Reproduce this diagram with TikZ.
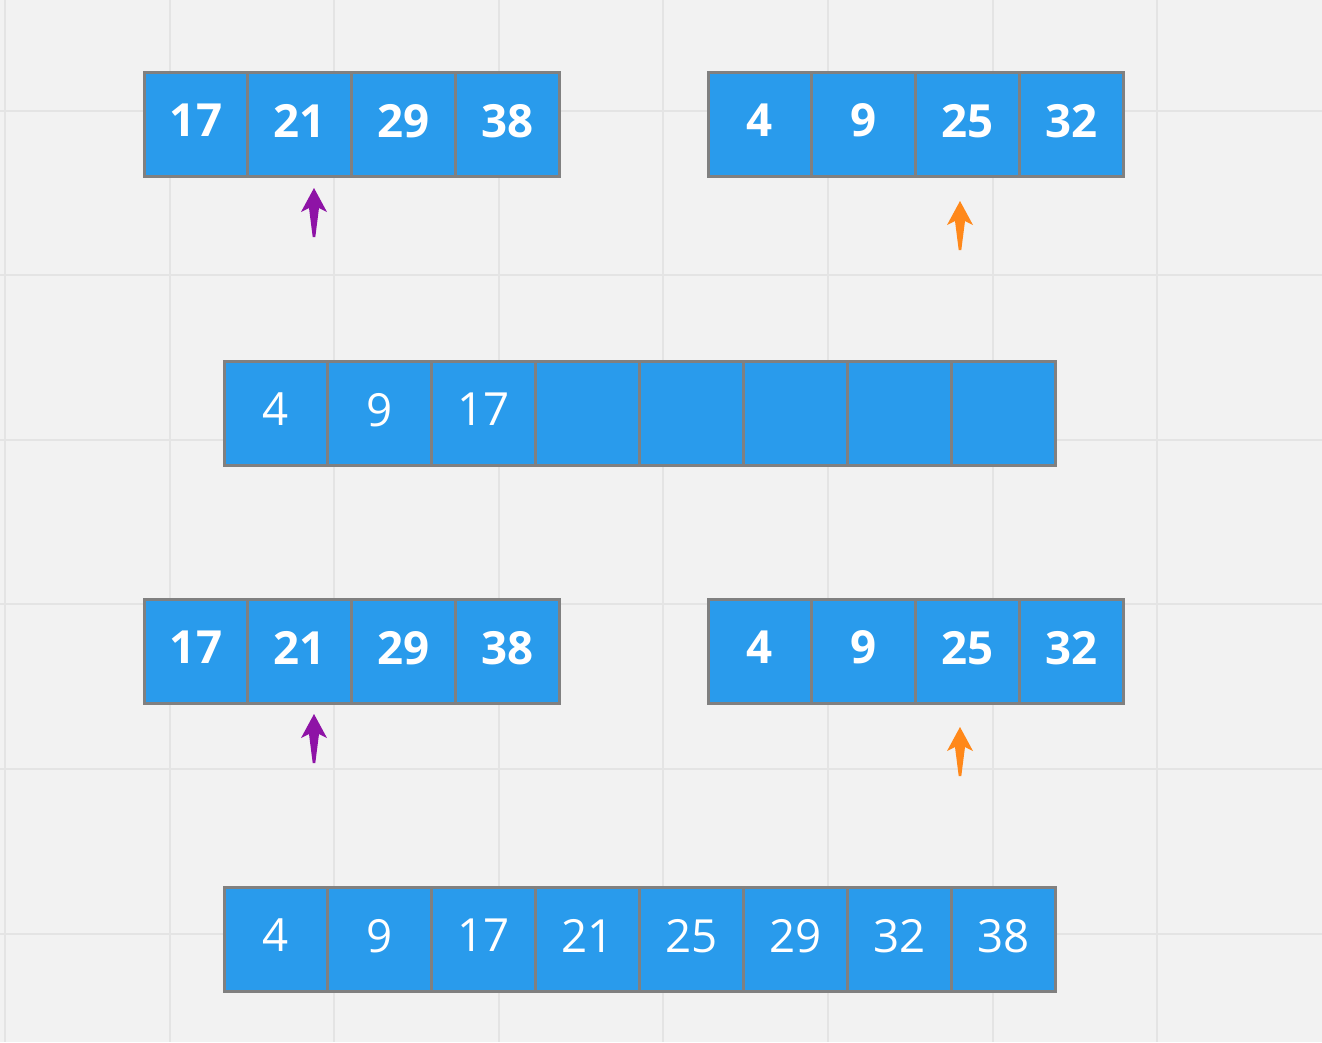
\documentclass[tikz,border=0pt]{standalone}
\usepackage{fontspec}
\setmainfont{Open Sans}
\usetikzlibrary{positioning}
\definecolor{cellblue}{RGB}{41,155,236}
\definecolor{cellline}{RGB}{128,128,128}
\definecolor{gridline}{RGB}{228,228,228}
\definecolor{paper}{RGB}{242,242,242}
\definecolor{ptrpurple}{RGB}{142,19,166}
\definecolor{ptrorange}{RGB}{255,136,26}
\tikzset{
  cell/.style={draw=cellline, fill=cellblue, line width=0.06cm,
               minimum width=2.08cm, minimum height=2.1cm,
               inner sep=0pt, outer sep=0pt, text=white, text depth=0.16cm,
               font=\fontsize{26}{30}\selectfont},
  src/.style={cell, font=\fontsize{26}{30}\selectfont\bfseries},
  pointer/.pic={\fill[pic actions] (0,0) -- (13,24) -- (5,20) -- (1.3,49)
                -- (-1.3,49) -- (-5,20) -- (-13,24) -- cycle;},
}
\begin{document}
\begin{tikzpicture}[x=0.02cm, y=-0.02cm, node distance=0pt]
  % paper and grid
  \fill[paper] (0,0) rectangle (1322,1042);
  \useasboundingbox (0,0) rectangle (1322,1042);
  \foreach \gx in {5,169.6,334.2,498.8,663.4,828,992.6,1157.2}
    \draw[gridline, line width=0.04cm] (\gx,0) -- (\gx,1042);
  \foreach \gy in {110.5,275.1,439.7,604.3,768.9,933.5}
    \draw[gridline, line width=0.04cm] (0,\gy) -- (1322,\gy);
  % first step: two sorted halves
  \node[src, anchor=north west] (a1) at (144,72) {17};
  \node[src, right=of a1] (a2) {21};
  \node[src, right=of a2] (a3) {29};
  \node[src, right=of a3] (a4) {38};
  \node[src, anchor=north west] (b1) at (708,72) {4};
  \node[src, right=of b1] (b2) {9};
  \node[src, right=of b2] (b3) {25};
  \node[src, right=of b3] (b4) {32};
  \pic[ptrpurple] at (314,188) {pointer};
  \pic[ptrorange] at (960,201) {pointer};
  % partly merged
  \node[cell, anchor=north west] (c1) at (224,361) {4};
  \node[cell, right=of c1] (c2) {9};
  \node[cell, right=of c2] (c3) {17};
  \node[cell, right=of c3] (c4) {};
  \node[cell, right=of c4] (c5) {};
  \node[cell, right=of c5] (c6) {};
  \node[cell, right=of c6] (c7) {};
  \node[cell, right=of c7] (c8) {};
  % second step: same halves
  \node[src, anchor=north west] (d1) at (144,599) {17};
  \node[src, right=of d1] (d2) {21};
  \node[src, right=of d2] (d3) {29};
  \node[src, right=of d3] (d4) {38};
  \node[src, anchor=north west] (e1) at (708,599) {4};
  \node[src, right=of e1] (e2) {9};
  \node[src, right=of e2] (e3) {25};
  \node[src, right=of e3] (e4) {32};
  \pic[ptrpurple] at (314,714) {pointer};
  \pic[ptrorange] at (960,727) {pointer};
  % fully merged
  \node[cell, anchor=north west] (f1) at (224,887) {4};
  \node[cell, right=of f1] (f2) {9};
  \node[cell, right=of f2] (f3) {17};
  \node[cell, right=of f3] (f4) {21};
  \node[cell, right=of f4] (f5) {25};
  \node[cell, right=of f5] (f6) {29};
  \node[cell, right=of f6] (f7) {32};
  \node[cell, right=of f7] (f8) {38};
\end{tikzpicture}
\end{document}
